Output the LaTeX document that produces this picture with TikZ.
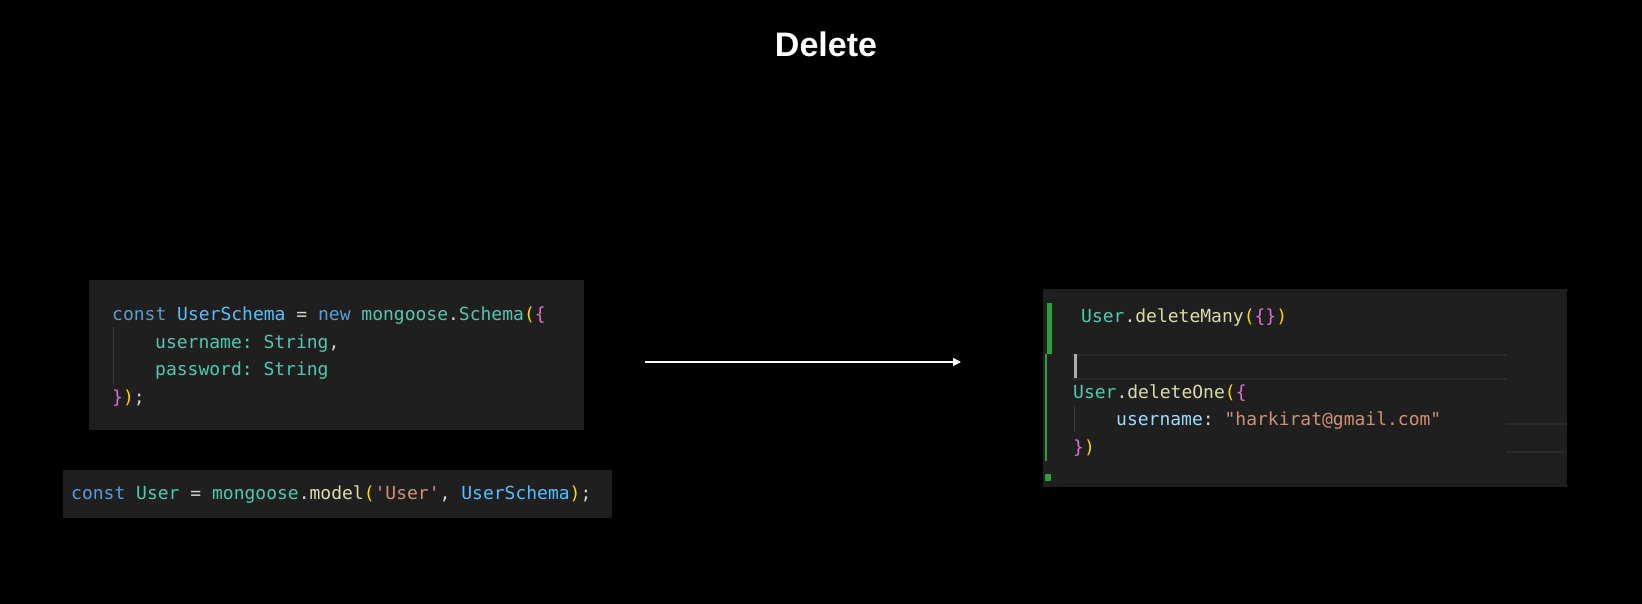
\documentclass[tikz,border=0pt]{standalone}
\usepackage{fontspec}
\setmainfont{Liberation Sans}
\setmonofont{DejaVu Sans Mono}
\usetikzlibrary{arrows.meta}

\definecolor{kwblue}{HTML}{569CD6}
\definecolor{varblue}{HTML}{4FC1FF}
\definecolor{teal}{HTML}{4EC9B0}
\definecolor{fnyellow}{HTML}{DCDCAA}
\definecolor{paren}{HTML}{FFD700}
\definecolor{brace}{HTML}{DA70D6}
\definecolor{strbrown}{HTML}{CE9178}
\definecolor{propblue}{HTML}{9CDCFE}
\definecolor{punct}{HTML}{D4D4D4}
\definecolor{codebg}{HTML}{1F1F1F}
\definecolor{guide}{HTML}{3C3C3C}
\definecolor{gitgreen}{HTML}{2E9E3E}
\definecolor{hlline}{HTML}{2C2C2C}
\definecolor{cursor}{HTML}{AEAFAD}

\newcommand\kw[1]{\textcolor{kwblue}{#1}}
\newcommand\vr[1]{\textcolor{varblue}{#1}}
\newcommand\ty[1]{\textcolor{teal}{#1}}
\newcommand\fn[1]{\textcolor{fnyellow}{#1}}
\newcommand\pa[1]{\textcolor{paren}{#1}}
\newcommand\br[1]{\textcolor{brace}{#1}}
\newcommand\st[1]{\textcolor{strbrown}{#1}}
\newcommand\pr[1]{\textcolor{propblue}{#1}}

\tikzset{
    codebox/.style={fill=codebg, inner sep=0pt},
    codeline/.style={anchor=base west, inner sep=0pt, text=punct, font=\ttfamily\fontsize{18}{18}\selectfont},
    flow/.style={-{Triangle[length=8pt,width=8pt]}, white, line width=1.5pt},
}

\begin{document}
\begin{tikzpicture}[x=1pt,y=-1pt]
    \fill[black] (0,0) rectangle (1642,604);
    \useasboundingbox (0,0) rectangle (1642,604);

    % title
    \node[text=white, font=\bfseries\fontsize{34}{34}\selectfont] (title) at (826,44) {Delete};

    % schema
    \node[codebox, minimum width=495pt, minimum height=150pt] (schema) at (336.5,355) {};
    \draw[guide, line width=1pt] (113,327) -- (113,384);
    \node[codeline] (s1) at (112,320) {\kw{const} \vr{UserSchema} = \kw{new} \ty{mongoose}.\ty{Schema}\pa{(}\br{\{}};
    \node[codeline] (s2) at (155,348) {\ty{username: String},};
    \node[codeline] (s3) at (155,375) {\ty{password: String}};
    \node[codeline] (s4) at (112,403) {\br{\}}\pa{)};};

    % model
    \node[codebox, minimum width=549pt, minimum height=48pt] (model) at (337.5,494) {};
    \node[codeline] (m1) at (71,499) {\kw{const} \ty{User} = \ty{mongoose}.\fn{model}\pa{(}\st{'User'}, \vr{UserSchema}\pa{)};};

    % arrow
    \coordinate (from) at (645,362);
    \coordinate (to) at (961,362);
    \draw[flow] (from) -- (to);

    % delete
    \node[codebox, minimum width=524pt, minimum height=198pt] (delete) at (1305,388) {};
    \fill[gitgreen] (1047,303) rectangle (1052,354);
    \draw[gitgreen, line width=2pt] (1046,354) -- (1046,461);
    \fill[gitgreen] (1045,474) rectangle (1051,481);
    \foreach \y in {355,379}{
        \draw[hlline, line width=1.5pt] (1072,\y) -- (1506,\y);
        };
    \foreach \y in {424,452}{
        \draw[hlline, line width=1.5pt] (1506,\y) -- (1567,\y);
        };
    \fill[cursor] (1074,354) rectangle (1076.5,378);
    \draw[guide, line width=1pt] (1074,406) -- (1074,432);
    \node[codeline] (d1) at (1081,322) {\ty{User}.\fn{deleteMany}\pa{(}\br{\{\}}\pa{)}};
    \node[codeline] (d2) at (1073,398) {\ty{User}.\fn{deleteOne}\pa{(}\br{\{}};
    \node[codeline] (d3) at (1116,425) {\pr{username}: \st{"harkirat@gmail.com"}};
    \node[codeline] (d4) at (1073,453) {\br{\}}\pa{)}};
\end{tikzpicture}
\end{document}
